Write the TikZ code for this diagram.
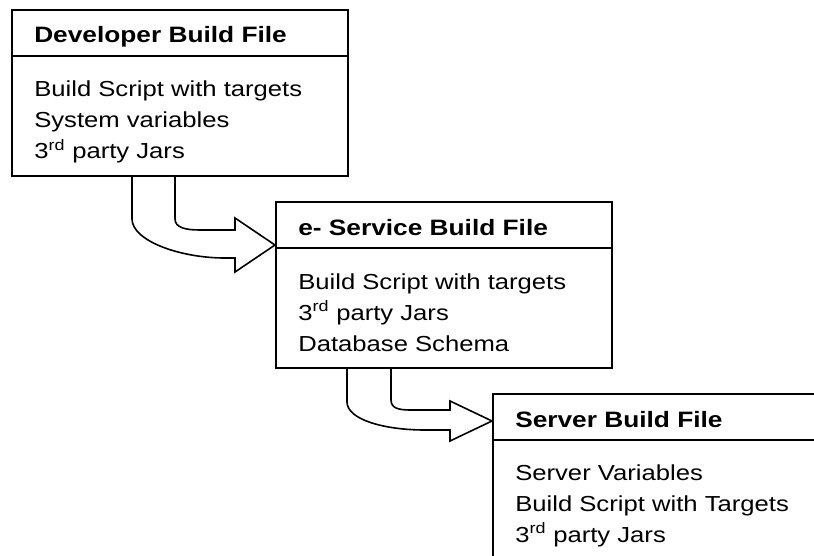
\documentclass[tikz,border=0pt]{standalone}
\usepackage{fontspec}
\setmainfont{Liberation Sans}[FakeStretch=1.18]
\usetikzlibrary{calc}
\tikzset{
  build file/.style={draw, line width=1.4pt, anchor=north west, inner sep=0pt,
    minimum width=252pt, minimum height=124.5pt},
  file title/.style={anchor=base west, inner sep=0pt,
    font=\fontsize{16.7}{20}\selectfont\bfseries},
  file entry/.style={anchor=base west, inner sep=0pt,
    font=\fontsize{16.3}{19}\selectfont},
  fat arrow/.style={line width=1.2pt, line join=miter},
}
\newcommand{\thirdparty}{3\textsuperscript{rd} party Jars}

\begin{document}
\begin{tikzpicture}[x=0.75pt,y=-0.75pt]
  \clip (0,0) rectangle (814,556);

  % Boxes
  \node[build file] (dev) at (11,9) {};
  \node[build file] (svc) at (275,201) {};
  \node[build file] (srv) at (492,393) {};

  % Title rules
  \foreach \f in {dev,svc,srv}
    \draw[line width=1.4pt] ($(\f.north west)+(0,47)$) -- ($(\f.north east)+(0,47)$);

  % Titles
  \node[file title] (dev title) at ($(dev.north west)+(23,34)$) {Developer Build File};
  \node[file title] (svc title) at ($(svc.north west)+(23,34)$) {e- Service Build File};
  \node[file title] (srv title) at ($(srv.north west)+(23,34)$) {Server Build File};

  % Entries
  \foreach \txt [count=\i] in {Build Script with targets, System variables, \thirdparty}
    \node[file entry] (dev entry \i) at ($(dev.north west)+(23,57+31*\i)$) {\txt};
  \foreach \txt [count=\i] in {Build Script with targets, \thirdparty, Database Schema}
    \node[file entry] (svc entry \i) at ($(svc.north west)+(23,57+31*\i)$) {\txt};
  \foreach \txt [count=\i] in {Server Variables, Build Script with Targets, \thirdparty}
    \node[file entry] (srv entry \i) at ($(srv.north west)+(23,56+31*\i)$) {\txt};

  % Arrows
  \coordinate (tip1) at ($(svc.north west)+(0,44)$);
  \draw[fat arrow] ($(dev.south west)+(121,0)$) -- ++(0,42)
    .. controls +(0,22) and +(-45,0) .. ($(tip1)+(-50,13)$)
    -- ($(tip1)+(-40,13)$) -- ($(tip1)+(-40,27)$) -- (tip1)
    -- ($(tip1)+(-40,-27)$) -- ($(tip1)+(-40,-15)$) -- ($(tip1)+(-75,-15)$)
    .. controls +(-14,0) and +(0,9) .. ($(dev.south west)+(164,42)$)
    -- ($(dev.south west)+(164,0)$);

  \coordinate (tip2) at ($(srv.north west)+(0,28)$);
  \draw[fat arrow] ($(svc.south west)+(72,0)$) -- ++(0,33)
    .. controls +(0,18) and +(-40,0) .. ($(tip2)+(-67,9)$)
    -- ($(tip2)+(-42,9)$) -- ($(tip2)+(-42,20)$) -- (tip2)
    -- ($(tip2)+(-42,-20)$) -- ($(tip2)+(-42,-11)$) -- ($(tip2)+(-82,-11)$)
    .. controls +(-12,0) and +(0,8) .. ($(svc.south west)+(116,31)$)
    -- ($(svc.south west)+(116,0)$);
\end{tikzpicture}
\end{document}
